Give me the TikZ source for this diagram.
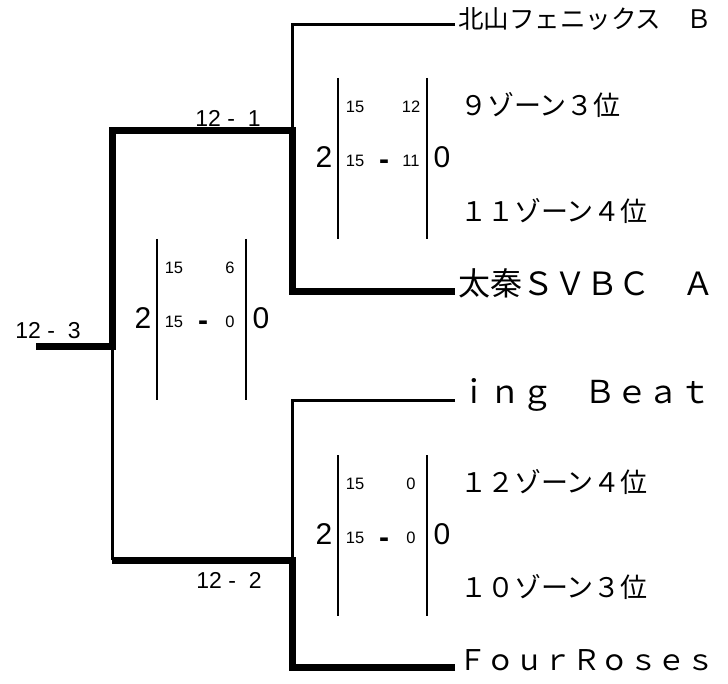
\documentclass[tikz,border=0pt]{standalone}
\usepackage{fontspec}
\setmainfont{Liberation Sans}
\newfontfamily\jpfont{Noto Sans CJK JP}
\usetikzlibrary{positioning}
\tikzset{win/.style={line width=7pt}, lose/.style={line width=3pt},
  setline/.style={line width=2.5pt}}
\tikzset{team/.style={anchor=west, inner xsep=3pt, inner ysep=0pt,
    text height=.87em, text depth=.13em},
  zone/.style={anchor=base west, inner sep=0pt,
    font=\jpfont\fontsize{27}{27}\selectfont},
  result/.style={anchor=base, inner sep=0pt, font=\fontsize{23}{23}\selectfont},
  sets/.style={anchor=base, inner sep=0pt, font=\fontsize{30}{30}\selectfont},
  pts/.style={anchor=base, inner sep=0pt, font=\fontsize{16.5}{16.5}\selectfont},
  dash sign/.style={anchor=base, inner sep=0pt, font=\bfseries\fontsize{30}{30}\selectfont}}

\begin{document}
\begin{tikzpicture}[x=1pt, y=-1pt]
    \useasboundingbox (0,0) rectangle (728,684);
    % teams
    \node[team, font=\jpfont\fontsize{25.5}{25.5}\selectfont] (t1) at (455,25) {北山フェニックス　Ｂ};
    \node[team, font=\jpfont\fontsize{32}{32}\selectfont] (t2) at (455,292) {太秦ＳＶＢＣ　Ａ};
    \node[team, font=\jpfont\fontsize{31.6}{31.6}\selectfont] (t3) at (455,400) {ｉｎｇ　Ｂｅａｔ};
    \node[team, font=\jpfont\fontsize{28.5}{28.5}\selectfont] (t4) at (455,667) {ＦｏｕｒＲｏｓｅｓ};
    \node[zone] (z1) at (460,116) {９ゾーン３位};
    \node[zone] (z2) at (460,222) {１１ゾーン４位};
    \node[zone] (z3) at (460,492) {１２ゾーン４位};
    \node[zone] (z4) at (460,597) {１０ゾーン３位};
    % bracket
    \coordinate (s1) at (292,131);
    \coordinate (s2) at (292,560);
    \coordinate (f1) at (112,131);
    \coordinate (f2) at (112,560);
    \coordinate (f0) at (112,347);
    \coordinate (w) at (36,347);
    \draw[lose] (t1.west) -| (s1);
    \draw[win] (t2.west) -| (s1) -- (f1) -- (f0) -- (w);
    \draw[lose] (t3.west) -| (s2);
    \draw[win] (t4.west) -| (s2) -- (f2);
    \draw[lose] (f2) -- (f0);
    \node[result] (r1) at (228,127) {12 -\ \ 1};
    \node[result] (r2) at (229,588) {12 -\ \ 2};
    \node[result] (r3) at (48,339) {12 -\ \ 3};
    % set scores
    \foreach \n/\lx/\ty/\ra/\rb in {a/338/78/12/11, b/157/239/6/0, c/338/455/0/0} {
      \draw[setline] (\lx,\ty) -- (\lx,\ty+161);
      \draw[setline] (\lx+89,\ty) -- (\lx+89,\ty+161);
      \node[sets] (\n w) at (\lx-14,\ty+89.5) {2};
      \node[sets] (\n l) at (\lx+104,\ty+89.5) {0};
      \node[pts] (\n p) at (\lx+17,\ty+34.5) {15};
      \node[pts] (\n q) at (\lx+73,\ty+34.5) {\ra};
      \node[pts] (\n r) at (\lx+17,\ty+88.5) {15};
      \node[dash sign] (\n d) at (\lx+46,\ty+92) {-};
      \node[pts] (\n s) at (\lx+73,\ty+88.5) {\rb};
    }
  \end{tikzpicture}
\end{document}
